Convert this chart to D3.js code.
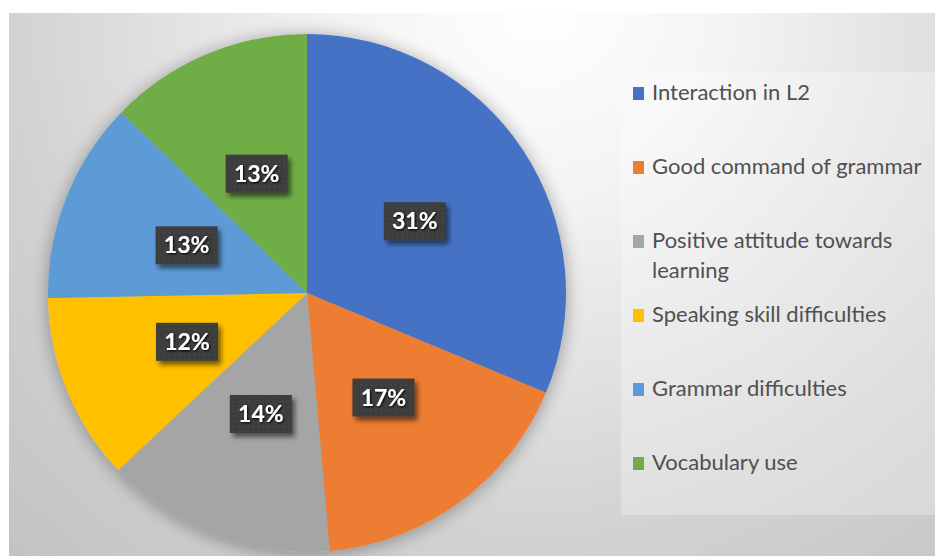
<!DOCTYPE html>
<html>
<head>
<meta charset="utf-8">
<script src="https://cdn.jsdelivr.net/npm/d3@7"></script>
<style>
  html, body { margin: 0; padding: 0; background: #fff; }
  svg { display: block; }
</style>
</head>
<body>
<svg id="chart" width="935" height="556"></svg>
<script>
// ---- data ----
const categories = [
  "Interaction in L2",
  "Good command of grammar",
  "Positive attitude towards learning",
  "Speaking skill difficulties",
  "Grammar difficulties",
  "Vocabulary use"
];
// shares (percent); labels shown rounded
const values = [31.3, 17.3, 14.4, 11.7, 12.6, 12.7];
const palette = ["#4472C4", "#ED7D31", "#A5A5A5", "#FFC000", "#5B9BD5", "#70AD47"];

const W = 935, H = 556;
const svg = d3.select("#chart");
const defs = svg.append("defs");

// background gradient
const bg = defs.append("radialGradient").attr("id", "bgGrad")
  .attr("gradientUnits", "userSpaceOnUse")
  .attr("cx", 540).attr("cy", 0).attr("r", 760);
bg.append("stop").attr("offset", 0).attr("stop-color", "#ffffff");
bg.append("stop").attr("offset", 0.25).attr("stop-color", "#f4f4f4");
bg.append("stop").attr("offset", 0.7).attr("stop-color", "#d2d2d2");
bg.append("stop").attr("offset", 1).attr("stop-color", "#c3c3c3");

// pie shadow
const sh = defs.append("filter").attr("id", "pieShadow")
  .attr("x", "-20%").attr("y", "-20%").attr("width", "140%").attr("height", "140%");
sh.append("feGaussianBlur").attr("in", "SourceAlpha").attr("stdDeviation", 9).attr("result", "b");
sh.append("feOffset").attr("in", "b").attr("dx", 0).attr("dy", 2).attr("result", "o");
sh.append("feComponentTransfer").attr("in", "o").attr("result", "s")
  .append("feFuncA").attr("type", "linear").attr("slope", 0.35);
const shm = sh.append("feMerge");
shm.append("feMergeNode").attr("in", "s");
shm.append("feMergeNode").attr("in", "SourceGraphic");

// label box shadow
const bs = defs.append("filter").attr("id", "boxShadow")
  .attr("x", "-30%").attr("y", "-30%").attr("width", "170%").attr("height", "170%");
bs.append("feGaussianBlur").attr("in", "SourceAlpha").attr("stdDeviation", 2.5).attr("result", "b");
bs.append("feOffset").attr("in", "b").attr("dx", 3).attr("dy", 4).attr("result", "o");
bs.append("feComponentTransfer").attr("in", "o").attr("result", "s")
  .append("feFuncA").attr("type", "linear").attr("slope", 0.55);
const bsm = bs.append("feMerge");
bsm.append("feMergeNode").attr("in", "s");
bsm.append("feMergeNode").attr("in", "SourceGraphic");

// dotted pattern for label boxes
const pat = defs.append("pattern").attr("id", "dots")
  .attr("patternUnits", "userSpaceOnUse").attr("width", 5).attr("height", 5);
pat.append("rect").attr("width", 5).attr("height", 5).attr("fill", "#3d3d3d");
pat.append("circle").attr("cx", 2.5).attr("cy", 2.5).attr("r", 0.8).attr("fill", "#4e4e4e");

// text glow for labels
const tg = defs.append("filter").attr("id", "txtGlow")
  .attr("x", "-20%").attr("y", "-30%").attr("width", "140%").attr("height", "160%");
tg.append("feGaussianBlur").attr("in", "SourceAlpha").attr("stdDeviation", 0.8).attr("result", "b");
tg.append("feOffset").attr("in", "b").attr("dx", 1).attr("dy", 1).attr("result", "o");
const tgm = tg.append("feMerge");
tgm.append("feMergeNode").attr("in", "o");
tgm.append("feMergeNode").attr("in", "SourceGraphic");

// panel background
svg.append("rect").attr("x", 9).attr("y", 13).attr("width", W - 9).attr("height", H - 13)
  .attr("fill", "url(#bgGrad)");

// ---- pie ----
const cx = 307, cy = 293, R = 259;
const color = d3.scaleOrdinal().domain(categories).range(palette);
const pie = d3.pie().value(d => d.value).sort(null);
const data = categories.map((c, i) => ({ name: c, value: values[i] }));
const arcs = pie(data);
const arc = d3.arc().innerRadius(0).outerRadius(R);
const labelArc = d3.arc().innerRadius(0).outerRadius(R);

const g = svg.append("g").attr("transform", `translate(${cx},${cy})`);
const slices = g.append("g").attr("filter", "url(#pieShadow)");
slices.selectAll("path").data(arcs).enter().append("path")
  .attr("d", arc)
  .attr("fill", d => color(d.data.name));

const total = d3.sum(values);
const fmt = d => Math.round(d.value / total * 100) + "%";

const bw = 62, bh = 38;
const lbl = g.selectAll("g.lbl").data(arcs).enter().append("g")
  .attr("class", "lbl")
  .attr("transform", d => { const c = labelArc.centroid(d); return `translate(${c[0]},${c[1]})`; });
lbl.append("rect")
  .attr("x", -bw / 2).attr("y", -bh / 2).attr("width", bw).attr("height", bh)
  .attr("fill", "url(#dots)")
  .attr("filter", "url(#boxShadow)");
lbl.append("text")
  .attr("text-anchor", "middle")
  .attr("y", 8)
  .attr("font-family", "Lato, 'Liberation Sans', sans-serif")
  .attr("font-weight", "bold")
  .attr("font-size", 23)
  .attr("fill", "#ffffff")
  .attr("filter", "url(#txtGlow)")
  .text(d => fmt(d.data));

// ---- legend ----
svg.append("rect").attr("x", 621).attr("y", 72).attr("width", W - 621).attr("height", 443)
  .attr("fill", "#ffffff").attr("fill-opacity", 0.28);

const legend = svg.append("g").attr("class", "legend");
const items = legend.selectAll("g").data(categories).enter().append("g")
  .attr("transform", (d, i) => `translate(633,${100 + i * 74})`);
items.append("rect")
  .attr("x", 0).attr("y", -13).attr("width", 11).attr("height", 13)
  .attr("fill", d => color(d));
const ltext = items.append("text")
  .attr("x", 19).attr("y", 0)
  .attr("font-family", "Lato, 'Liberation Sans', sans-serif")
  .attr("font-size", 22)
  .attr("fill", "#505050");

// wrap legend labels to a max width
const maxW = 285;
ltext.each(function (d) {
  const t = d3.select(this);
  const words = d.split(" ");
  let line = [];
  let ts = t.append("tspan").attr("x", 19).attr("dy", 0);
  words.forEach(w => {
    line.push(w);
    ts.text(line.join(" "));
    if (ts.node().getComputedTextLength() > maxW && line.length > 1) {
      line.pop();
      ts.text(line.join(" "));
      line = [w];
      ts = t.append("tspan").attr("x", 19).attr("dy", 30).text(w);
    }
  });
});
</script>
</body>
</html>
